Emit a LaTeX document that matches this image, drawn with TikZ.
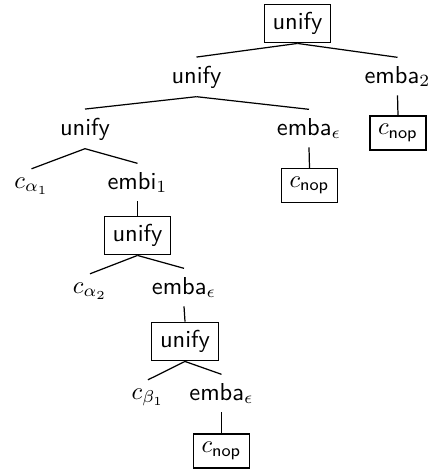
\documentclass[tikz,border=0pt]{standalone}
\begin{document}
\begin{tikzpicture}[x=0.408pt, y=-0.408pt,
  lbl/.style={font=\sffamily, anchor=base},
  boxed/.style={draw, font=\sffamily, line width=0.5pt},
  edge/.style={line width=0.5pt}]
  \useasboundingbox (0,0) rectangle (433,469);

  % top level
  \node[boxed] (root) at (297.5,23.5) {unify};
  \node[lbl] (u2) at (196.5,83) {unify};
  \node[lbl] (e2) at (397.5,83) {emba$_2$};
  \node[boxed] (n1) at (398,133) {$c_{\mathsf{nop}}$};

  % second level
  \node[lbl] (u3) at (85,135) {unify};
  \node[lbl] (e3) at (309,135) {emba$_\epsilon$};
  \node[boxed] (n2) at (309.5,185.5) {$c_{\mathsf{nop}}$};

  % third level
  \node[lbl] (ca1) at (31.5,188) {$c_{\alpha_1}$};
  \node[lbl] (em1) at (137.5,189) {embi$_1$};
  \node[boxed] (u4) at (137.5,235.5) {unify};

  % fourth level
  \node[lbl] (ca2) at (90,293) {$c_{\alpha_2}$};
  \node[lbl] (e4) at (184,294) {emba$_\epsilon$};
  \node[boxed] (u5) at (185,341.5) {unify};

  % fifth level
  \node[lbl] (cb1) at (148,399) {$c_{\beta_1}$};
  \node[lbl] (e5) at (221.5,400) {emba$_\epsilon$};
  \node[boxed] (n3) at (221.5,451) {$c_{\mathsf{nop}}$};

  % connectors
  \draw[edge] (root.south) -- (u2.north);
  \draw[edge] (root.south) -- (e2.north);
  \draw[edge] (e2.south) -- (n1.north);
  \draw[edge] (u2.south) -- (u3.north);
  \draw[edge] (u2.south) -- (e3.north);
  \draw[edge] (e3.south) -- (n2.north);
  \draw[edge] (u3.south) -- (ca1.north);
  \draw[edge] (u3.south) -- (em1.north);
  \draw[edge] (em1.south) -- (u4.north);
  \draw[edge] (u4.south) -- (ca2.north);
  \draw[edge] (u4.south) -- (e4.north);
  \draw[edge] (e4.south) -- (u5.north);
  \draw[edge] (u5.south) -- (cb1.north);
  \draw[edge] (u5.south) -- (e5.north);
  \draw[edge] (e5.south) -- (n3.north);
\end{tikzpicture}
\end{document}
